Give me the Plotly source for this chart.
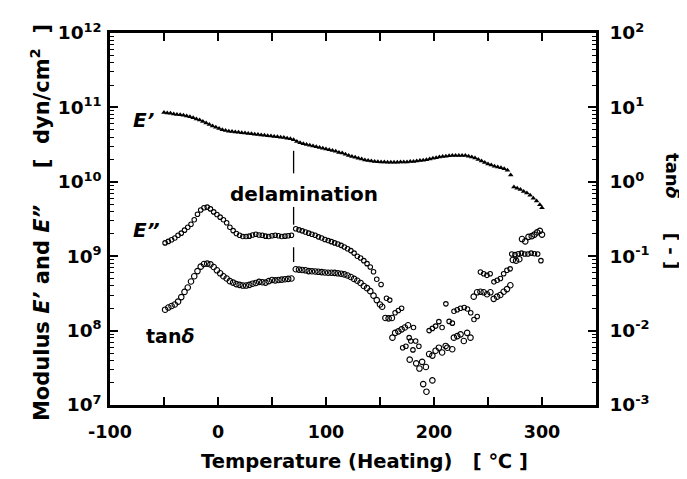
import plotly.graph_objects as go

# ---------------- data ----------------
# E' (storage modulus, dyn/cm2) -- filled triangles
E1_T = [-50,-47,-44,-41,-38,-35,-32,-29,-26,-23,-20,-17,-14,-11,-8,-5,-2,1,4,7,10,13,16,19,22,25,28,31,34,37,
        40,43,46,49,52,55,58,61,64,67,70,73,76,79,82,85,88,91,94,97,100,103,106,109,112,115,118,121,124,127,
        130,133,136,139,142,145,148,151,154,157,160,163,166,169,172,175,178,181,184,187,190,193,196,199,202,205,
        208,211,214,217,220,223,226,229,232,235,238,241,244,247,250,253,256,259,262,265,268,271,274,277,280,283,
        286,289,292,295,298,300]
E1_VAL = [8.51e10,8.41e10,8.32e10,8.13e10,8.04e10,7.94e10,7.85e10,7.67e10,7.50e10,7.24e10,7.00e10,6.76e10,6.46e10,
          6.17e10,5.89e10,5.62e10,5.43e10,5.19e10,5.01e10,4.90e10,4.79e10,4.73e10,4.68e10,4.62e10,4.57e10,4.52e10,
          4.47e10,4.42e10,4.37e10,4.32e10,4.27e10,4.22e10,4.17e10,4.12e10,4.07e10,4.03e10,3.98e10,3.94e10,3.85e10,
          3.78e10,3.67e10,3.47e10,3.35e10,3.24e10,3.16e10,3.09e10,3.02e10,2.95e10,2.88e10,2.82e10,2.75e10,2.69e10,
          2.63e10,2.57e10,2.48e10,2.43e10,2.34e10,2.26e10,2.19e10,2.14e10,2.07e10,2.02e10,1.97e10,1.93e10,1.91e10,
          1.88e10,1.86e10,1.85e10,1.84e10,1.83e10,1.83e10,1.83e10,1.83e10,1.84e10,1.84e10,1.85e10,1.87e10,1.88e10,
          1.91e10,1.93e10,1.95e10,1.98e10,2.02e10,2.07e10,2.11e10,2.16e10,2.19e10,2.21e10,2.24e10,2.25e10,2.26e10,
          2.26e10,2.26e10,2.25e10,2.21e10,2.16e10,2.09e10,2.00e10,1.91e10,1.82e10,1.74e10,1.68e10,1.62e10,1.58e10,
          1.55e10,1.50e10,1.43e10,1.23e10,8.51e9,8.22e9,7.85e9,7.41e9,7.08e9,6.61e9,6.03e9,5.50e9,4.90e9,4.47e9]

# E'' (loss modulus, dyn/cm2) -- small open circles
E2_T = [-49,-46,-43,-40,-37,-34,-31,-28,-25,-22,-19,-16,-13,-10,-7,-4,-1,2,5,8,11,14,17,20,23,26,29,32,35,38,
        41,44,47,50,53,56,59,62,65,68,
        72,75,78,81,84,87,90,93,96,99,102,105,108,111,114,117,120,123,126,129,132,135,138,141,144,147,151,156,159,
        164,167,170,181,
        171,174,177,178.5,180.5,183,186,
        195.5,198.5,201.5,204.5,207.5,211,214,217,
        218.5,221.5,224.5,228,231,234,237,240,
        243,246,249,252,
        255.5,258.5,261.5,264.5,267.5,270.5,
        272,275,278,281,284,287,290,293,296,299]
E2_VAL = [1.51e9,1.58e9,1.66e9,1.76e9,1.91e9,2.04e9,2.24e9,2.45e9,2.69e9,3.09e9,3.67e9,4.17e9,4.47e9,4.57e9,
          4.32e9,3.94e9,3.63e9,3.35e9,3.09e9,2.82e9,2.45e9,2.21e9,2.02e9,1.91e9,1.84e9,1.84e9,1.86e9,1.93e9,
          1.97e9,1.93e9,1.91e9,1.86e9,1.84e9,1.88e9,1.91e9,1.88e9,1.84e9,1.86e9,1.88e9,1.91e9,
          2.34e9,2.26e9,2.19e9,2.11e9,2.04e9,1.97e9,1.91e9,1.82e9,1.76e9,1.68e9,1.62e9,1.57e9,1.51e9,1.46e9,
          1.40e9,1.33e9,1.26e9,1.19e9,1.10e9,1.00e9,9.44e8,8.71e8,7.94e8,7.16e8,6.17e8,4.90e8,4.17e8,2.72e8,2.57e8,
          1.74e8,1.86e8,2.00e8,1.10e8,
          5.89e7,6.17e7,8.04e7,7.24e7,5.50e7,7.24e7,6.17e7,
          1.00e8,1.07e8,1.15e8,1.32e8,1.10e8,2.29e8,1.33e8,1.26e8,
          1.82e8,1.91e8,2.00e8,2.04e8,1.95e8,1.74e8,1.41e8,1.55e8,
          6.12e8,5.82e8,5.53e8,5.82e8,
          4.52e8,4.75e8,5.01e8,5.82e8,6.46e8,6.76e8,
          1.07e9,1.05e9,1.08e9,1.10e9,1.07e9,1.07e9,1.10e9,1.08e9,1.07e9,8.71e8]

# tan(delta) (right axis) -- open circles
TAN_T = [-49,-46,-43,-40,-37,-34,-31,-28,-25,-22,-19,-16,-13,-10,-7,-4,-1,2,5,8,11,14,17,20,23,26,29,32,35,38,
         41,44,47,50,53,56,59,62,65,68,
         72,75,78,81,84,87,90,93,96,99,102,105,108,111,114,117,120,123,126,129,132,135,138,141,144,147,150,152,
         155,158,161,161.5,164,167,170,173,176,
         177.5,183.5,186.5,189,192.5,190,193,198.5,
         195.5,198.5,201.5,204.5,207.5,210.8,212.3,216.9,
         218.4,221.5,224.6,227.6,230.7,233.8,
         236.8,239.9,243,246,249.1,252.2,
         255.3,258.4,261.4,264.5,267.6,270.7,
         273,276,279,
         281.5,284.5,287.5,290.5,293,295.5,298,300]
TAN_VAL = [0.0191,0.0204,0.0214,0.0224,0.0245,0.0282,0.0331,0.0380,0.0457,0.0537,0.0631,0.0724,0.0785,0.0794,
           0.0776,0.0716,0.0646,0.0589,0.0537,0.0501,0.0462,0.0442,0.0422,0.0412,0.0403,0.0403,0.0412,0.0427,
           0.0437,0.0452,0.0447,0.0442,0.0462,0.0479,0.0473,0.0479,0.0484,0.0490,0.0495,0.0501,
           0.0668,0.0661,0.0653,0.0646,0.0631,0.0627,0.0624,0.0617,0.0610,0.0603,0.0600,0.0600,0.0596,0.0589,
           0.0582,0.0569,0.0550,0.0525,0.0495,0.0468,0.0437,0.0398,0.0372,0.0339,0.0295,0.0257,0.0224,0.0209,
           0.0148,0.0146,0.0148,0.00804,0.00933,0.00977,0.0104,0.0110,0.0118,
           0.00407,0.00363,0.00309,0.00380,0.00324,0.00191,0.00151,0.00214,
           0.00484,0.00461,0.00537,0.00589,0.00508,0.00622,0.00589,0.00562,
           0.00804,0.00843,0.00891,0.00724,0.00933,0.00804,
           0.0286,0.0327,0.0333,0.0327,0.0308,0.0327,
           0.0267,0.0286,0.0301,0.0333,0.0361,0.0407,
           0.0891,0.0871,0.0912,
           0.170,0.158,0.182,0.186,0.195,0.209,0.219,0.195]

assert len(E1_T) == len(E1_VAL)
assert len(E2_T) == len(E2_VAL)
assert len(TAN_T) == len(TAN_VAL)

# delamination marker (dashed vertical line, drawn as segments)
DELAM_T = 70
DELAM_SEGMENTS = [(2.61e10, 1.30e10), (4.59e9, 2.65e9), (1.32e9, 8.34e8)]

# axes ticks
X_TICKS = [-100, 0, 100, 200, 300]
X_MINOR = [-50, 50, 150, 250]
Y_EXP = [7, 8, 9, 10, 11, 12]
Y2_EXP = [-3, -2, -1, 0, 1, 2]

# ---------------- figure ----------------
FONT = "DejaVu Sans"
fig = go.Figure()

fig.add_trace(go.Scatter(
    x=E1_T, y=E1_VAL, mode="markers", yaxis="y", showlegend=False,
    marker=dict(symbol="triangle-up", size=5, color="black", line=dict(width=0))))
fig.add_trace(go.Scatter(
    x=E2_T, y=E2_VAL, mode="markers", yaxis="y", showlegend=False,
    marker=dict(symbol="circle-open", size=4.5, color="black", line=dict(width=1.1, color="black"))))
fig.add_trace(go.Scatter(
    x=TAN_T, y=TAN_VAL, mode="markers", yaxis="y2", showlegend=False,
    marker=dict(symbol="circle-open", size=5.5, color="black", line=dict(width=1.1, color="black"))))

lx, ly = [], []
for a, b in DELAM_SEGMENTS:
    lx += [DELAM_T, DELAM_T, None]
    ly += [a, b, None]
fig.add_trace(go.Scatter(x=lx, y=ly, mode="lines", yaxis="y", showlegend=False,
                         line=dict(color="black", width=1.3)))

y_minor = [m * 10.0 ** e for e in Y_EXP[:-1] for m in range(2, 10)]
y2_minor = [m * 10.0 ** e for e in Y2_EXP[:-1] for m in range(2, 10)]

axis_common = dict(showline=True, linewidth=2.5, linecolor="black", showgrid=False, zeroline=False,
                   ticks="inside", ticklen=8, tickwidth=2, tickcolor="black")

# the page body has an 8px default margin, so the figure is sized to fill the window exactly
fig.update_layout(
    width=679, height=471,
    margin=dict(l=102, r=91, t=19, b=74),
    paper_bgcolor="white", plot_bgcolor="white",
    font=dict(family=FONT, size=18, color="black", weight="bold"),
    xaxis=dict(range=[-100, 350], tickmode="array", tickvals=X_TICKS, ticktext=[str(v) for v in X_TICKS],
               minor=dict(tickmode="array", tickvals=X_MINOR, ticks="inside", ticklen=8, tickwidth=2,
                          tickcolor="black"),
               mirror="allticks", tickfont=dict(size=17.5, family=FONT, weight="bold"),
               ticklabelstandoff=9, **axis_common),
    yaxis=dict(type="log", range=[7, 12], tickmode="array", tickvals=[10.0 ** e for e in Y_EXP],
               ticktext=["10<sup>%d</sup>" % e for e in Y_EXP],
               minor=dict(tickmode="array", tickvals=y_minor, ticks="inside", ticklen=4, tickwidth=1.2,
                          tickcolor="black"),
               tickfont=dict(size=18.5, family=FONT, weight="bold"), ticklabelstandoff=2, **axis_common),
    yaxis2=dict(type="log", range=[-3, 2], overlaying="y", side="right", tickmode="array",
                tickvals=[10.0 ** e for e in Y2_EXP], ticktext=["10<sup>%d</sup>" % e for e in Y2_EXP],
                minor=dict(tickmode="array", tickvals=y2_minor, ticks="inside", ticklen=4, tickwidth=1.2,
                           tickcolor="black"),
                tickfont=dict(size=18.5, family=FONT, weight="bold"), ticklabelstandoff=7, **axis_common),
)

def ann(text, x, y, size=19, angle=0):
    fig.add_annotation(text=text, x=x, y=y, xref="paper", yref="paper", showarrow=False,
                       xanchor="center", yanchor="middle", textangle=angle,
                       font=dict(family=FONT, size=size, color="black", weight="bold"))

NB = "\u00a0"
ann("Modulus <i>E’</i> and <i>E”</i>" + NB * 5 + "[" + NB * 2 + "dyn/cm<sup>2</sup>" + NB * 2 + "]",
    -0.144, 0.489, 21, -90)
ann("Temperature (Heating)" + NB * 3 + "[ ℃ ]", 0.523, -0.153, 19.5)
ann("tan<i>δ</i>", 1.156, 0.616, 18, 90)
ann("[ - ]", 1.156, 0.415, 18, 90)
ann("<i>E’</i>", 0.068, 0.765, 20)
ann("<i>E”</i>", 0.076, 0.471, 20)
ann("tan<i>δ</i>", 0.1255, 0.185, 19)
ann("delamination", 0.400, 0.566, 20)

fig.write_html("out.html")
